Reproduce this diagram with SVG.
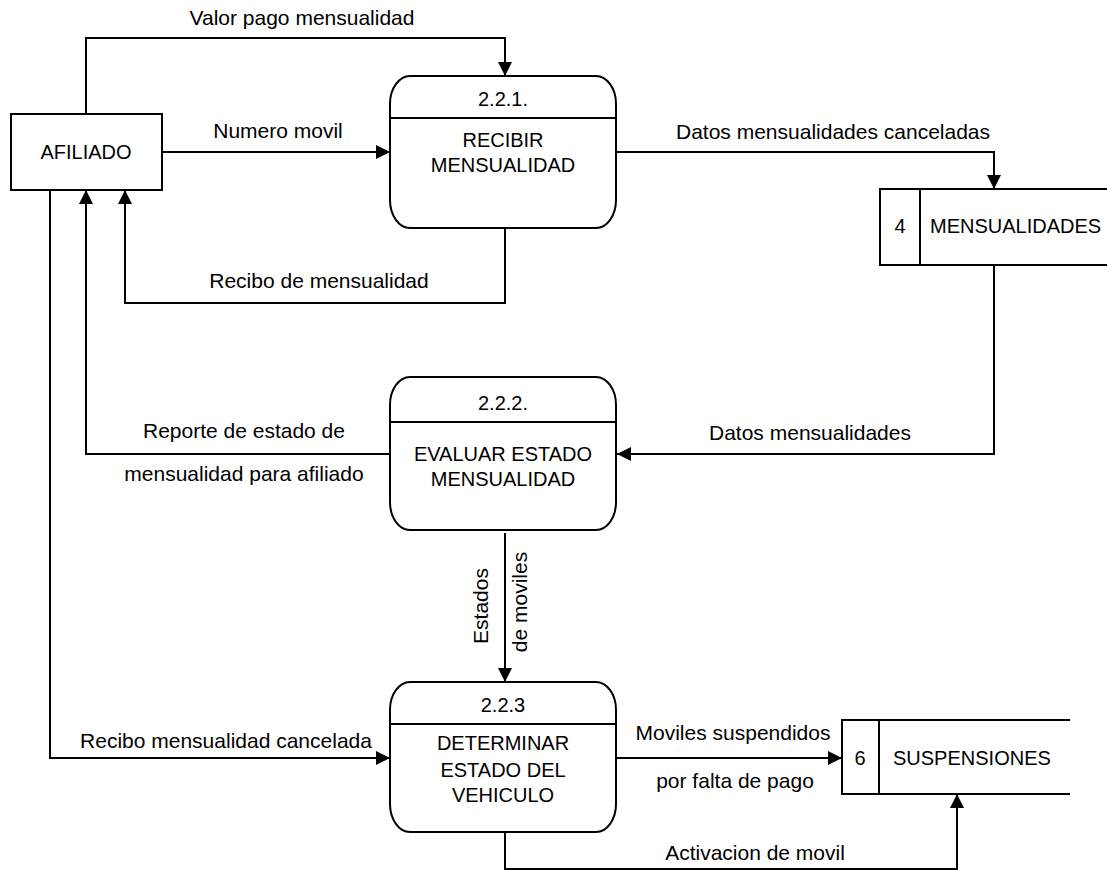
<svg xmlns="http://www.w3.org/2000/svg" width="1107" height="870" viewBox="0 0 1107 870">
<style>
.ln{fill:none;stroke:#000;stroke-width:2}
.sh{fill:#fff;stroke:#000;stroke-width:2}
text{font-family:"Liberation Sans",Arial,sans-serif;font-size:21px;fill:#000}
.n{font-size:20px;text-anchor:middle}
.c{text-anchor:middle}
</style>
<defs>
<marker id="ah" markerUnits="userSpaceOnUse" markerWidth="14" markerHeight="14" refX="14" refY="7" orient="auto">
<path d="M0,0 L14,7 L0,14 z" fill="#000"/>
</marker>
</defs>
<rect width="1107" height="870" fill="#fff"/>
<g id="connectors">
<path class="ln" d="M86,114 V38 H505 V76" marker-end="url(#ah)"/>
<path class="ln" d="M162,152 H390" marker-end="url(#ah)"/>
<path class="ln" d="M505,228 V303 H125 V190" marker-end="url(#ah)"/>
<path class="ln" d="M616,152 H994 V189" marker-end="url(#ah)"/>
<path class="ln" d="M994,265 V454 H617" marker-end="url(#ah)"/>
<path class="ln" d="M390,454 H86 V190" marker-end="url(#ah)"/>
<path class="ln" d="M505,533 V682" marker-end="url(#ah)"/>
<path class="ln" d="M50,190 V758 H390" marker-end="url(#ah)"/>
<path class="ln" d="M616,758 H842" marker-end="url(#ah)"/>
<path class="ln" d="M505,832 V869 H957 V794" marker-end="url(#ah)"/>
<text x="302" y="25" class="c">Valor pago mensualidad</text>
<text x="278" y="138" class="c">Numero movil</text>
<text x="319" y="288" class="c">Recibo de mensualidad</text>
<text x="833" y="139" class="c">Datos mensualidades canceladas</text>
<text x="810" y="440" class="c">Datos mensualidades</text>
<text x="244" y="438" class="c">Reporte de estado de</text>
<text x="244" y="481" class="c">mensualidad para afiliado</text>
<text transform="translate(488,606) rotate(-90)" class="c">Estados</text>
<text transform="translate(527,602) rotate(-90)" class="c">de moviles</text>
<text x="226" y="748" class="c">Recibo mensualidad cancelada</text>
<text x="733" y="740" class="c">Moviles suspendidos</text>
<text x="735" y="788" class="c">por falta de pago</text>
<text x="755" y="860" class="c">Activacion de movil</text>
</g>
<g id="afiliado">
<rect class="sh" x="11" y="114" width="151" height="76"/>
<text x="86" y="159" class="n">AFILIADO</text>
</g>
<g id="p221">
<path class="sh" d="M410,76 H596 A20 28 0 0 1 616,104 V200 A20 28 0 0 1 596,228 H410 A20 28 0 0 1 390,200 V104 A20 28 0 0 1 410,76 Z"/>
<line class="ln" x1="390" y1="118" x2="616" y2="118"/>
<text x="503" y="106" class="n">2.2.1.</text>
<text x="503" y="147" class="n">RECIBIR</text>
<text x="503" y="172" class="n">MENSUALIDAD</text>
</g>
<g id="store4">
<path class="sh" d="M1107,189 H880 V265 H1107"/>
<line class="ln" x1="920" y1="189" x2="920" y2="265"/>
<text x="900" y="233" class="n">4</text>
<text x="930" y="233" style="font-size:20px">MENSUALIDADES</text>
</g>
<g id="p222">
<path class="sh" d="M410,377 H596 A20 28 0 0 1 616,405 V502 A20 28 0 0 1 596,530 H410 A20 28 0 0 1 390,502 V405 A20 28 0 0 1 410,377 Z"/>
<line class="ln" x1="390" y1="422" x2="616" y2="422"/>
<text x="503" y="410" class="n">2.2.2.</text>
<text x="503" y="461" class="n">EVALUAR ESTADO</text>
<text x="503" y="486" class="n">MENSUALIDAD</text>
</g>
<g id="p223">
<path class="sh" d="M410,682 H596 A20 28 0 0 1 616,710 V804 A20 28 0 0 1 596,832 H410 A20 28 0 0 1 390,804 V710 A20 28 0 0 1 410,682 Z"/>
<line class="ln" x1="390" y1="724" x2="616" y2="724"/>
<text x="503" y="712" class="n">2.2.3</text>
<text x="503" y="750" class="n">DETERMINAR</text>
<text x="503" y="777" class="n">ESTADO DEL</text>
<text x="503" y="802" class="n">VEHICULO</text>
</g>
<g id="store6">
<path class="sh" d="M1070,720 H842 V794 H1070"/>
<line class="ln" x1="879" y1="720" x2="879" y2="794"/>
<text x="860" y="765" class="n">6</text>
<text x="893" y="765" style="font-size:20px">SUSPENSIONES</text>
</g>
</svg>
